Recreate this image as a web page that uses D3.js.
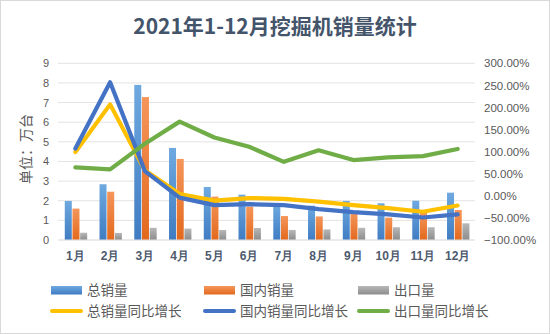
<!DOCTYPE html>
<html><head><meta charset="utf-8">
<script src="https://cdn.jsdelivr.net/npm/d3@7"></script>
<style>body{margin:0;background:#fff}svg{display:block}</style>
</head><body><div id="chart"></div>
<script>
const months = ["1月","2月","3月","4月","5月","6月","7月","8月","9月","10月","11月","12月"];
const totalSales = [1.99, 2.84, 7.90, 4.69, 2.70, 2.31, 1.81, 1.75, 1.99, 1.87, 2.00, 2.41];
const domesticSales = [1.60, 2.46, 7.28, 4.13, 2.21, 1.70, 1.22, 1.20, 1.38, 1.14, 1.41, 1.53];
const exportSales = [0.37, 0.36, 0.62, 0.58, 0.51, 0.61, 0.51, 0.54, 0.62, 0.65, 0.65, 0.85];
const totalYoY = [0.99, 2.07, 0.58, 0.04, -0.11, -0.05, -0.07, -0.13, -0.21, -0.28, -0.36, -0.22];
const domesticYoY = [1.07, 2.57, 0.56, -0.04, -0.21, -0.19, -0.21, -0.30, -0.37, -0.42, -0.49, -0.42];
const exportYoY = [0.645, 0.60, 1.18, 1.68, 1.32, 1.11, 0.77, 1.03, 0.81, 0.87, 0.90, 1.06];
const leftTicks = [0,1,2,3,4,5,6,7,8,9];
const rightTicks = [-1,-0.5,0,0.5,1,1.5,2,2.5,3];
const title = "2021年1-12月挖掘机销量统计";
const yTitle = "单位：万台";
const barSeries = [
  {name:"总销量", values: totalSales, grad:"gBlue"},
  {name:"国内销量", values: domesticSales, grad:"gOrange"},
  {name:"出口量", values: exportSales, grad:"gGrey"}
];
const lineSeries = [
  {name:"总销量同比增长", values: totalYoY, color:"#ffc000"},
  {name:"国内销量同比增长", values: domesticYoY, color:"#4472c4"},
  {name:"出口量同比增长", values: exportYoY, color:"#70ad47"}
];

const W = 550, H = 334;
const m = {left:58, right:75, top:63.3, bottom:94};
const svg = d3.select("#chart").append("svg").attr("width",W).attr("height",H)
  .style("font-family","'Noto Sans CJK SC','Noto Sans',sans-serif");

const defs = svg.append("defs");
function grad(id, top, bot){
  const g = defs.append("linearGradient").attr("id",id).attr("x1",0).attr("y1",0).attr("x2",0).attr("y2",1);
  g.append("stop").attr("offset","0%").attr("stop-color",top);
  g.append("stop").attr("offset","100%").attr("stop-color",bot);
}
grad("gBlue","#6ea9e0","#3f7cc2");
grad("gOrange","#f5965b","#e2691d");
grad("gGrey","#b8b8b8","#8c8c8c");

svg.append("rect").attr("x",0.5).attr("y",0.5).attr("width",W-1).attr("height",H-1)
  .attr("fill","#fff").attr("stroke","#d9d9d9");

const x = d3.scaleBand().domain(months).range([m.left, W-m.right]).paddingInner(0).paddingOuter(0);
const yL = d3.scaleLinear().domain([0,9]).range([H-m.bottom, m.top]);
const yR = d3.scaleLinear().domain([-1,3]).range([H-m.bottom, m.top]);

// gridlines
svg.append("g").selectAll("line").data(leftTicks).join("line")
  .attr("x1",m.left).attr("x2",W-m.right)
  .attr("y1",d=>yL(d)).attr("y2",d=>yL(d))
  .attr("stroke","#e3e3e3").attr("stroke-width",1);

// left axis
const axL = svg.append("g").attr("transform",`translate(${m.left},0)`)
  .call(d3.axisLeft(yL).tickValues(leftTicks).tickSize(0).tickPadding(9).tickFormat(d3.format("d")));
axL.select(".domain").remove();
axL.selectAll("text").attr("fill","#595959").style("font-size","11px").style("font-family","'Liberation Sans',sans-serif");

// right axis
const axR = svg.append("g").attr("transform",`translate(${W-m.right},0)`)
  .call(d3.axisRight(yR).tickValues(rightTicks).tickSize(0).tickPadding(9).tickFormat(d3.format(".2%")));
axR.select(".domain").remove();
axR.selectAll("text").attr("fill","#595959").style("font-size","11.5px").style("font-family","'Liberation Sans',sans-serif");

// bars
const barW = 7, barStep = 7.7;
const gBars = svg.append("g");
barSeries.forEach((s,i)=>{
  gBars.append("g").selectAll("rect").data(s.values).join("rect")
    .attr("x",(d,j)=> x(months[j]) + x.bandwidth()/2 - (barStep*1.5) + 0.35 + i*barStep + 0.6)
    .attr("width",barW)
    .attr("y",d=>yL(d)).attr("height",d=>yL(0)-yL(d))
    .attr("fill",`url(#${s.grad})`);
});

// x axis line
svg.append("line").attr("x1",m.left).attr("x2",W-m.right).attr("y1",yL(0)).attr("y2",yL(0))
  .attr("stroke","#e3e3e3");

// x labels
const axX = svg.append("g").attr("transform",`translate(0,${yL(0)})`)
  .call(d3.axisBottom(x).tickSize(0).tickPadding(11));
axX.select(".domain").remove();
axX.selectAll("text").attr("fill","#4e5a6e").style("font-size","12px").style("font-weight","bold");

// lines
const line = d3.line().x((d,j)=>x(months[j])+x.bandwidth()/2).y(d=>yR(d));
lineSeries.forEach(s=>{
  svg.append("path").datum(s.values).attr("d",line).attr("fill","none")
    .attr("stroke",s.color).attr("stroke-width",4.2).attr("stroke-linejoin","round").attr("stroke-linecap","round");
});

// title
svg.append("text").attr("x",W/2).attr("y",34).attr("text-anchor","middle")
  .attr("fill","#44546a").style("font-size","21px").style("font-weight","bold").text(title);

// y title
svg.append("text").attr("transform",`translate(31,149) rotate(-90)`).attr("text-anchor","middle")
  .attr("fill","#595959").style("font-size","14px").text(yTitle);

// legend
const cols = [51, 204, 358];
const lg = svg.append("g");
barSeries.forEach((s,i)=>{
  lg.append("rect").attr("x",cols[i]).attr("y",286).attr("width",31).attr("height",8.5).attr("fill",`url(#${s.grad})`);
  lg.append("text").attr("x",cols[i]+36).attr("y",295).attr("fill","#595959").style("font-size","13.5px").text(s.name);
});
lineSeries.forEach((s,i)=>{
  lg.append("line").attr("x1",cols[i]+1).attr("x2",cols[i]+30).attr("y1",311).attr("y2",311)
    .attr("stroke",s.color).attr("stroke-width",4).attr("stroke-linecap","round");
  lg.append("text").attr("x",cols[i]+36).attr("y",316).attr("fill","#595959").style("font-size","13.5px").text(s.name);
});
</script></body></html>
